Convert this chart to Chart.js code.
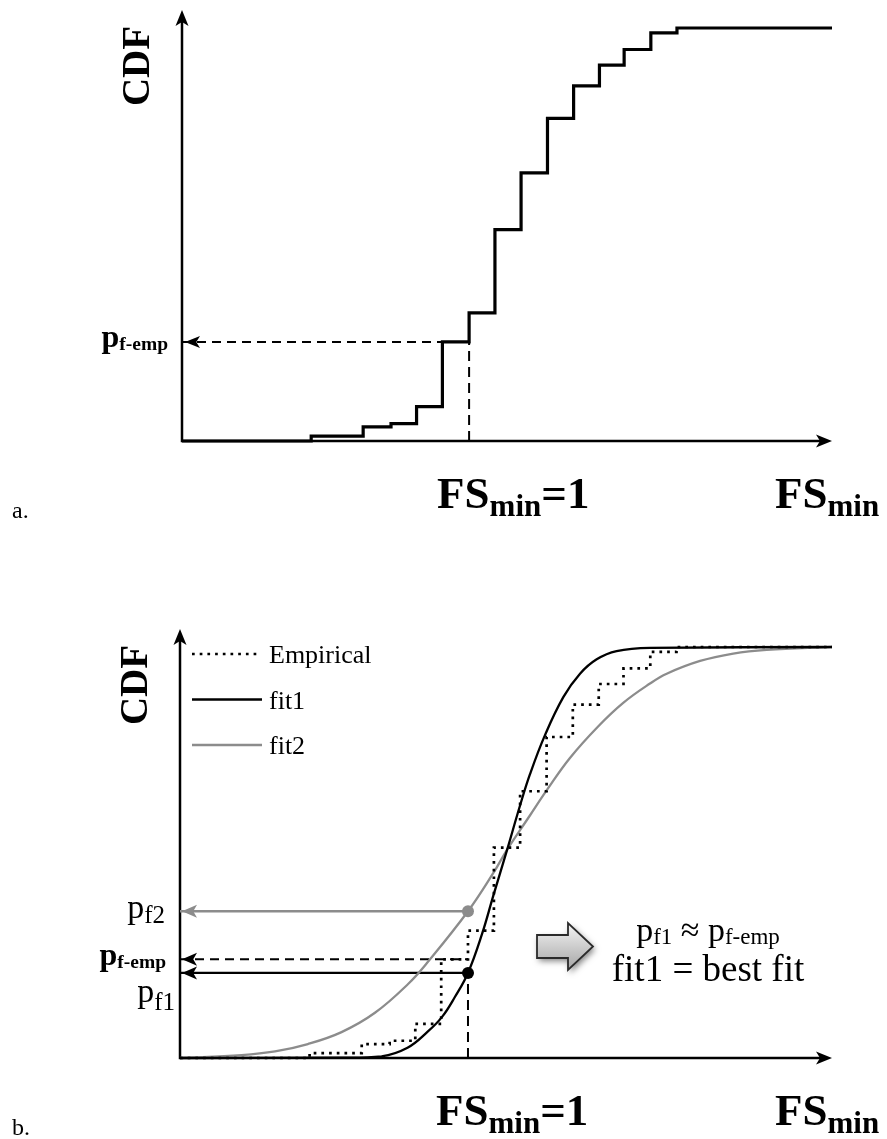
<!DOCTYPE html>
<html>
<head>
<meta charset="utf-8">
<script src="https://cdn.jsdelivr.net/npm/chart.js@4.4.1/dist/chart.umd.min.js"></script>
<style>
  html, body { margin: 0; padding: 0; background: #fff; }
  #wrap { position: relative; width: 887px; height: 1139px; }
  canvas { position: absolute; left: 0; }
</style>
</head>
<body>
<div id="wrap">
  <canvas id="panelA" width="887" height="570" style="top:0"></canvas>
  <canvas id="panelB" width="887" height="569" style="top:570px"></canvas>
</div>
<script>
// empirical CDF: FS_min where each step starts, and the CDF value after it
var empFs  = [0, 0.450, 0.631, 0.728, 0.817, 0.907, 1.000, 1.090, 1.181, 1.273, 1.364, 1.454, 1.540, 1.633, 1.724, 2.264];
var empCdf = [0, 0.012, 0.034, 0.042, 0.083, 0.240, 0.310, 0.512, 0.649, 0.781, 0.860, 0.910, 0.948, 0.988, 1.000, 1.000];

// fitted CDFs
var fit1Fs  = [0, 0.55, 0.70, 0.79, 0.86, 0.91, 0.955, 1.0, 1.048, 1.088, 1.136, 1.181, 1.215, 1.267, 1.331, 1.389, 1.447, 1.516, 1.632, 2.264];
var fit1Cdf = [0, 0.001, 0.004, 0.025, 0.064, 0.100, 0.149, 0.207, 0.300, 0.395, 0.507, 0.615, 0.690, 0.785, 0.878, 0.935, 0.970, 0.990, 0.998, 1.0];
var fit2Fs  = [0, 0.214, 0.330, 0.444, 0.561, 0.677, 0.792, 0.861, 1.0, 1.087, 1.136, 1.215, 1.273, 1.354, 1.451, 1.539, 1.632, 1.690, 1.806, 1.921, 2.037, 2.264];
var fit2Cdf = [0, 0.007, 0.016, 0.034, 0.063, 0.110, 0.180, 0.234, 0.357, 0.449, 0.507, 0.590, 0.651, 0.730, 0.806, 0.864, 0.911, 0.935, 0.966, 0.984, 0.993, 1.0];

var fsOne = 1;          // FS_min = 1
var pfEmp = 0.240;      // empirical probability of failure
var pf1 = 0.207;
var pf2 = 0.357;
var fsAxisMax = 2.264;

var SERIF = '"Liberation Serif", "Times New Roman", serif';
var GRAY = '#8c8c8c';

function pts(xs, ys) {
  return xs.map(function(x, i) { return { x: x, y: ys[i] }; });
}

function drawRich(ctx, parts, x, y, align) {
  var w = 0;
  parts.forEach(function(p) { ctx.font = p.font; p.w = ctx.measureText(p.text).width; w += p.w; });
  var cx = align === 'right' ? x - w : (align === 'center' ? x - w / 2 : x);
  ctx.textAlign = 'left';
  ctx.textBaseline = 'alphabetic';
  parts.forEach(function(p) {
    ctx.font = p.font;
    ctx.fillStyle = p.color || '#000';
    ctx.fillText(p.text, cx, y + (p.dy || 0));
    cx += p.w;
  });
}

function head(ctx, x, y, dir, len, half, color) {
  ctx.save();
  ctx.fillStyle = color;
  ctx.beginPath();
  if (dir === 'left') { ctx.moveTo(x, y); ctx.lineTo(x + len, y - half); ctx.lineTo(x + len * 0.75, y); ctx.lineTo(x + len, y + half); }
  else if (dir === 'right') { ctx.moveTo(x, y); ctx.lineTo(x - len, y - half); ctx.lineTo(x - len * 0.75, y); ctx.lineTo(x - len, y + half); }
  else { ctx.moveTo(x, y); ctx.lineTo(x - half, y + len); ctx.lineTo(x, y + len * 0.75); ctx.lineTo(x + half, y + len); }
  ctx.closePath();
  ctx.fill();
  ctx.restore();
}

function drawAxes(chart) {
  var ctx = chart.ctx, a = chart.chartArea;
  ctx.save();
  ctx.strokeStyle = '#000';
  ctx.lineWidth = 2.5;
  ctx.beginPath();
  ctx.moveTo(a.left, a.top - 10);
  ctx.lineTo(a.left, a.bottom);
  ctx.lineTo(a.right - 6, a.bottom);
  ctx.stroke();
  ctx.restore();
  head(ctx, a.left, a.top - 18, 'up', 16, 6.5, '#000');
  head(ctx, a.right, a.bottom, 'right', 16, 6.5, '#000');
}

function drawCommonText(chart, letter) {
  var ctx = chart.ctx, a = chart.chartArea;
  var xs = chart.scales.x;
  ctx.save();
  ctx.translate(a.left - 33, a.top + 38);
  ctx.rotate(-Math.PI / 2);
  ctx.font = 'bold 39px ' + SERIF;
  ctx.fillStyle = '#000';
  ctx.textAlign = 'center';
  ctx.textBaseline = 'alphabetic';
  ctx.fillText('CDF', 0, 0);
  ctx.restore();

  var big = 'bold 45px ' + SERIF, sub = 'bold 31px ' + SERIF;
  drawRich(ctx, [{ text: 'FS', font: big }, { text: 'min', font: sub, dy: 8 }, { text: '=1', font: big }],
    xs.getPixelForValue(fsOne) - 32, a.bottom + 67, 'left');
  drawRich(ctx, [{ text: 'FS', font: big }, { text: 'min', font: sub, dy: 8 }],
    a.right - 57, a.bottom + 67, 'left');

  ctx.font = '24px ' + SERIF;
  ctx.fillStyle = '#000';
  ctx.textAlign = 'left';
  ctx.fillText(letter, 12, a.bottom + 77);
}

function pfEmpLabel(ctx, x, y) {
  drawRich(ctx, [{ text: 'p', font: 'bold 32px ' + SERIF }, { text: 'f-emp', font: 'bold 19.5px ' + SERIF, dy: 3 }], x, y, 'right');
}

var panelAPlugin = {
  id: 'panelA',
  beforeDatasetsDraw: function(chart) { drawAxes(chart); },
  afterDraw: function(chart) {
    var ctx = chart.ctx, a = chart.chartArea, ys = chart.scales.y;
    var yE = ys.getPixelForValue(pfEmp);
    head(ctx, a.left + 3, yE, 'left', 15, 6, '#000');
    pfEmpLabel(ctx, a.left - 14, yE + 5);
    drawCommonText(chart, 'a.');
  }
};

var panelBPlugin = {
  id: 'panelB',
  beforeDatasetsDraw: function(chart) { drawAxes(chart); },
  afterDraw: function(chart) {
    var ctx = chart.ctx, a = chart.chartArea, ys = chart.scales.y;
    var ds = chart.data.datasets;
    var y2 = ys.getPixelForValue(pf2), yE = ys.getPixelForValue(pfEmp), y1 = ys.getPixelForValue(pf1);
    head(ctx, a.left + 2, y2, 'left', 15, 6.5, GRAY);
    head(ctx, a.left + 2, yE, 'left', 15, 6.5, '#000');
    head(ctx, a.left + 2, y1, 'left', 15, 6.5, '#000');

    var pReg = '34px ' + SERIF, sReg = '25px ' + SERIF;
    drawRich(ctx, [{ text: 'p', font: pReg }, { text: 'f2', font: sReg, dy: 5 }], a.left - 15, y2 + 7, 'right');
    pfEmpLabel(ctx, a.left - 14, yE + 6);
    drawRich(ctx, [{ text: 'p', font: pReg }, { text: 'f1', font: sReg, dy: 8 }], a.left - 5, y1 + 29, 'right');

    // legend
    var rows = [ds[0], ds[1], ds[2]];
    rows.forEach(function(d, i) {
      var ly = a.top + 7 + i * 45.5;
      ctx.save();
      ctx.strokeStyle = d.borderColor;
      ctx.lineWidth = d.borderWidth;
      ctx.setLineDash(d.borderDash || []);
      ctx.beginPath();
      ctx.moveTo(a.left + 12, ly);
      ctx.lineTo(a.left + (i === 0 ? 77 : 82), ly);
      ctx.stroke();
      ctx.restore();
      ctx.font = '26px ' + SERIF;
      ctx.fillStyle = '#000';
      ctx.textAlign = 'left';
      ctx.fillText(d.label, a.left + 89, ly + 9);
    });

    // block arrow
    var x0 = a.left + 357, yc = a.bottom - 111.5;
    ctx.save();
    ctx.shadowColor = 'rgba(0,0,0,0.5)';
    ctx.shadowBlur = 6; ctx.shadowOffsetX = 2; ctx.shadowOffsetY = 3;
    var g = ctx.createLinearGradient(0, yc - 24, 0, yc + 24);
    g.addColorStop(0, '#f6f6f6'); g.addColorStop(1, '#a4a4a4');
    ctx.beginPath();
    ctx.moveTo(x0, yc - 11.5); ctx.lineTo(x0 + 31, yc - 11.5); ctx.lineTo(x0 + 31, yc - 23.5);
    ctx.lineTo(x0 + 56, yc); ctx.lineTo(x0 + 31, yc + 23.5); ctx.lineTo(x0 + 31, yc + 11.5);
    ctx.lineTo(x0, yc + 11.5); ctx.closePath();
    ctx.fillStyle = g; ctx.fill();
    ctx.shadowColor = 'transparent';
    ctx.lineWidth = 1.8; ctx.strokeStyle = '#2a2a2a'; ctx.stroke();
    ctx.restore();

    var tx = a.left + 528;
    drawRich(ctx, [{ text: 'p', font: pReg }, { text: 'f1', font: '23px ' + SERIF, dy: 3 },
      { text: ' \u2248 ', font: pReg }, { text: 'p', font: pReg }, { text: 'f-emp', font: '23px ' + SERIF, dy: 3 }],
      tx, a.bottom - 117, 'center');
    ctx.font = '37px ' + SERIF;
    ctx.textAlign = 'center';
    ctx.fillStyle = '#000';
    ctx.fillText('fit1 = best fit', tx, a.bottom - 77);

    drawCommonText(chart, 'b.');
  }
};

function options(pad) {
  return {
    responsive: false,
    animation: false,
    events: [],
    layout: { padding: pad },
    plugins: { legend: { display: false }, tooltip: { enabled: false } },
    scales: {
      x: { type: 'linear', min: 0, max: fsAxisMax, display: false },
      y: { type: 'linear', min: 0, max: 1, display: false }
    }
  };
}

var lineBase = { type: 'line', pointRadius: 0, fill: false, clip: false };

new Chart(document.getElementById('panelA'), {
  type: 'line',
  data: {
    datasets: [
      Object.assign({}, lineBase, { label: 'Empirical', data: pts(empFs, empCdf), stepped: true, borderColor: '#000', borderWidth: 3.2 }),
      Object.assign({}, lineBase, { label: 'pf-emp', data: [{ x: 0, y: pfEmp }, { x: fsOne, y: pfEmp }], borderColor: '#000', borderWidth: 2, borderDash: [9, 6] }),
      Object.assign({}, lineBase, { label: 'FS=1', data: [{ x: fsOne, y: 0 }, { x: fsOne, y: pfEmp }], borderColor: '#000', borderWidth: 2, borderDash: [10, 6] })
    ]
  },
  options: options({ left: 182, top: 28, right: 55, bottom: 129 }),
  plugins: [panelAPlugin]
});

new Chart(document.getElementById('panelB'), {
  type: 'line',
  data: {
    datasets: [
      Object.assign({}, lineBase, { label: 'Empirical', data: pts(empFs, empCdf), stepped: true, borderColor: '#000', borderWidth: 2.7, borderDash: [2.7, 5] }),
      Object.assign({}, lineBase, { label: 'fit1', data: pts(fit1Fs, fit1Cdf), tension: 0.4, borderColor: '#000', borderWidth: 2.3 }),
      Object.assign({}, lineBase, { label: 'fit2', data: pts(fit2Fs, fit2Cdf), tension: 0.4, borderColor: GRAY, borderWidth: 2.3 }),
      Object.assign({}, lineBase, { label: 'pf2', data: [{ x: 0, y: pf2 }, { x: fsOne, y: pf2 }], borderColor: GRAY, borderWidth: 2.5 }),
      Object.assign({}, lineBase, { label: 'pf-emp', data: [{ x: 0, y: pfEmp }, { x: fsOne, y: pfEmp }], borderColor: '#000', borderWidth: 2, borderDash: [9, 6] }),
      Object.assign({}, lineBase, { label: 'pf1', data: [{ x: 0, y: pf1 }, { x: fsOne, y: pf1 }], borderColor: '#000', borderWidth: 2.3 }),
      Object.assign({}, lineBase, { label: 'FS=1', data: [{ x: fsOne, y: 0 }, { x: fsOne, y: pf1 }], borderColor: '#000', borderWidth: 2, borderDash: [10, 6] }),
      { type: 'scatter', label: 'fit points', data: [{ x: fsOne, y: pf1 }, { x: fsOne, y: pf2 }],
        pointRadius: 6, pointBackgroundColor: ['#000', GRAY], pointBorderWidth: 0, clip: false }
    ]
  },
  options: options({ left: 180, top: 77, right: 55, bottom: 81 }),
  plugins: [panelBPlugin]
});
</script>
</body>
</html>
